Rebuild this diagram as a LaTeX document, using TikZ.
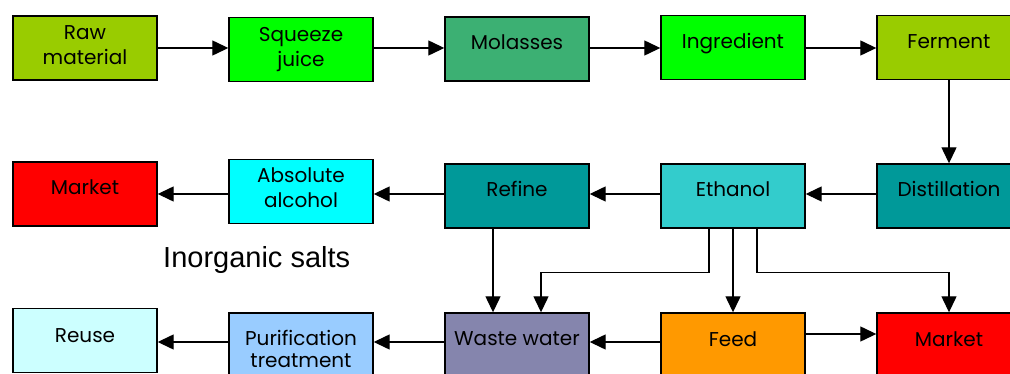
\documentclass[tikz,border=0pt]{standalone}
\usepackage{fontspec}
\setmainfont{Poppins}
\newfontfamily\labelfont{Liberation Sans}
\usetikzlibrary{arrows.meta}
\definecolor{cOlive}{HTML}{99CC00}
\definecolor{cGreen}{HTML}{00FF00}
\definecolor{cSea}{HTML}{3CB073}
\definecolor{cRed}{HTML}{FF0000}
\definecolor{cCyan}{HTML}{00FFFF}
\definecolor{cTeal}{HTML}{009999}
\definecolor{cTurq}{HTML}{33CCCC}
\definecolor{cPale}{HTML}{CCFFFF}
\definecolor{cSky}{HTML}{99CCFF}
\definecolor{cLav}{HTML}{8585AD}
\definecolor{cOrange}{HTML}{FF9900}
\begin{document}
\begin{tikzpicture}[x=1pt,y=-1pt,
  box/.style={draw=black, line width=1.4pt, minimum width=144pt, minimum height=64pt, inner sep=0pt},
  txt/.style={font=\fontsize{20}{25}\selectfont, align=center, inner sep=0pt, anchor=base},
  arr/.style={line width=1.3pt, -{Triangle[length=16pt,width=15pt]}}]
\useasboundingbox (0,0) rectangle (1010,374);
% row 1
\node[box, fill=cOlive]  (raw) at (85,48) {};
\node[box, fill=cGreen]  (sq)  at (301,49.5) {};
\node[box, fill=cSea]    (mol) at (517,49) {};
\node[box, fill=cGreen]  (ing) at (733,47.5) {};
\node[box, fill=cOlive]  (fer) at (949,47.5) {};
\node[txt] (rawt) at (85,65) {Raw\\material};
\node[txt] (sqt)  at (301,67) {Squeeze\\juice};
\node[txt] (molt) at (517,50) {Molasses};
\node[txt] (ingt) at (733,49) {Ingredient};
\node[txt] (fert) at (949,49) {Ferment};
% row 2
\node[box, fill=cRed]    (mk1) at (85,194) {};
\node[box, fill=cCyan]   (abs) at (301,191.5) {};
\node[box, fill=cTeal]   (ref) at (517,196) {};
\node[box, fill=cTurq]   (eth) at (733,196) {};
\node[box, fill=cTeal]   (dis) at (949,196) {};
\node[txt] (mk1t) at (85,194.5) {Market};
\node[txt] (abst) at (301,208) {Absolute\\alcohol};
\node[txt] (reft) at (517,197) {Refine};
\node[txt] (etht) at (733,197) {Ethanol};
\node[txt] (dist) at (949,197) {Distillation};
% row 3
\node[box, fill=cPale]   (reu) at (85,340.5) {};
\node[box, fill=cSky]    (pur) at (301,345) {};
\node[box, fill=cLav]    (ww)  at (517,345) {};
\node[box, fill=cOrange] (fee) at (733,345) {};
\node[box, fill=cRed]    (mk2) at (949,345) {};
\node[txt] (reut) at (85,342) {Reuse};
\node[txt, font=\fontsize{20}{22}\selectfont] (purt) at (301,367) {Purification\\treatment};
\node[txt] (wwt)  at (517,345) {Waste water};
\node[txt] (feet) at (733,346) {Feed};
\node[txt] (mk2t) at (949,346) {Market};
% free label
\node[font=\labelfont\fontsize{29}{32}\selectfont, inner sep=0pt, anchor=base west] (salt) at (163,268) {Inorganic salts};
% connectors
\coordinate (r1) at (0,48);
\coordinate (r2) at (0,194);
\coordinate (r3) at (0,342);
\draw[arr] (raw.east |- r1) -- (sq.west |- r1);
\draw[arr] (sq.east |- r1) -- (mol.west |- r1);
\draw[arr] (mol.east |- r1) -- (ing.west |- r1);
\draw[arr] (ing.east |- r1) -- (fer.west |- r1);
\draw[arr] (fer) -- (dis);
\draw[arr] (dis.west |- r2) -- (eth.east |- r2);
\draw[arr] (eth.west |- r2) -- (ref.east |- r2);
\draw[arr] (ref.west |- r2) -- (abs.east |- r2);
\draw[arr] (abs.west |- r2) -- (mk1.east |- r2);
\draw[arr] ([xshift=-24pt]ref.south) -- ([xshift=-24pt]ww.north);
\draw[arr] ([xshift=-24pt]eth.south) -- ++(0,44) -| ([xshift=24pt]ww.north);
\draw[arr] (eth) -- (fee);
\draw[arr] ([xshift=24pt]eth.south) -- ++(0,44) -| (mk2.north);
\draw[arr] (fee.west |- r3) -- (ww.east |- r3);
\draw[arr] (ww.west |- r3) -- (pur.east |- r3);
\draw[arr] (pur.west |- r3) -- (reu.east |- r3);
\draw[arr] (fee.east |- 0,334) -- (mk2.west |- 0,334);
\end{tikzpicture}
\end{document}
